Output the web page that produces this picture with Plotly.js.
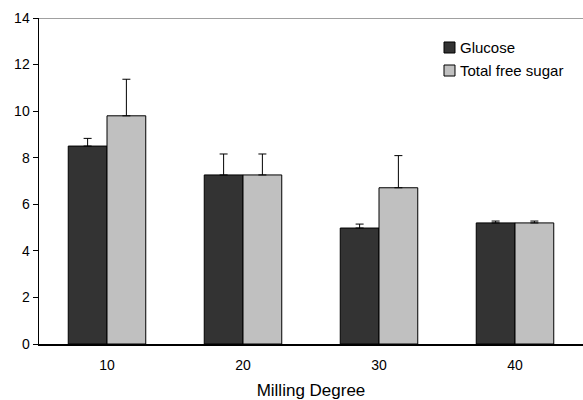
<!DOCTYPE html>
<html><head><meta charset="utf-8">
<script src="https://cdn.plot.ly/plotly-3.0.1.min.js"></script>
<style>html,body{margin:0;padding:0;background:#fff;}#chart{width:583px;height:400px;}</style>
</head><body><div id="chart"></div>
<script>
const categories = ["10", "20", "30", "40"];
const seriesNames = ["Glucose", "Total free sugar"];
const seriesColors = ["#333333", "#c0c0c0"];
const glucose = [8.5, 7.26, 4.98, 5.2];
const glucoseErr = [0.33, 0.9, 0.17, 0.08];
const totalSugar = [9.8, 7.26, 6.71, 5.2];
const totalSugarErr = [1.57, 0.9, 1.38, 0.08];
const zeros = [0, 0, 0, 0];

const font = {family: "Arial, 'Liberation Sans', sans-serif", color: "#000"};
const traces = [
  {type: "bar", name: seriesNames[0], x: categories, y: glucose,
   marker: {color: seriesColors[0], line: {color: "#000", width: 1}},
   error_y: {type: "data", symmetric: false, array: glucoseErr, arrayminus: zeros, color: "#000", thickness: 1, width: 4}},
  {type: "bar", name: seriesNames[1], x: categories, y: totalSugar,
   marker: {color: seriesColors[1], line: {color: "#000", width: 1}},
   error_y: {type: "data", symmetric: false, array: totalSugarErr, arrayminus: zeros, color: "#000", thickness: 1, width: 4}}
];

// manual legend (square + label), positioned in paper coordinates
const legendX0 = 0.7445, legendX1 = 0.7647, legendTextX = 0.772;
const legendRows = [{y0: 0.8926, y1: 0.9264, yc: 0.9095}, {y0: 0.822, y1: 0.8558, yc: 0.839}];
const shapes = [{type: "line", xref: "paper", yref: "y", x0: 0, x1: 1, y0: 14, y1: 14,
                 line: {color: "#808080", width: 1.5}}];
const annotations = [];
seriesNames.forEach((nm, i) => {
  const r = legendRows[i];
  shapes.push({type: "rect", xref: "paper", yref: "paper", x0: legendX0, x1: legendX1, y0: r.y0, y1: r.y1,
               fillcolor: seriesColors[i], line: {color: "#000", width: 1}});
  annotations.push({xref: "paper", yref: "paper", x: legendTextX, y: r.yc, xanchor: "left", yanchor: "middle",
                    text: nm, showarrow: false, borderpad: 0, font: Object.assign({size: 15}, font)});
});

const layout = {
  width: 583, height: 400,
  margin: {l: 39, r: 0, t: 18, b: 56},
  paper_bgcolor: "#fff", plot_bgcolor: "#fff",
  font: Object.assign({size: 14}, font),
  barmode: "group", bargap: 0.43, bargroupgap: 0,
  showlegend: false,
  xaxis: {type: "category", range: [-0.5, 3.5], showline: true, linecolor: "#000", linewidth: 1.5,
          ticks: "", showgrid: false, zeroline: false, ticklabelstandoff: 8,
          tickfont: Object.assign({size: 14}, font),
          title: {text: "Milling Degree", font: Object.assign({size: 17}, font), standoff: 13}},
  yaxis: {range: [0, 14], dtick: 2, showline: true, linecolor: "#000", linewidth: 1.5,
          ticks: "outside", ticklen: 5, tickcolor: "#000", showgrid: false, zeroline: false,
          tickfont: Object.assign({size: 14}, font)},
  shapes: shapes,
  annotations: annotations
};
Plotly.newPlot("chart", traces, layout, {displayModeBar: false, staticPlot: true});
</script></body></html>
